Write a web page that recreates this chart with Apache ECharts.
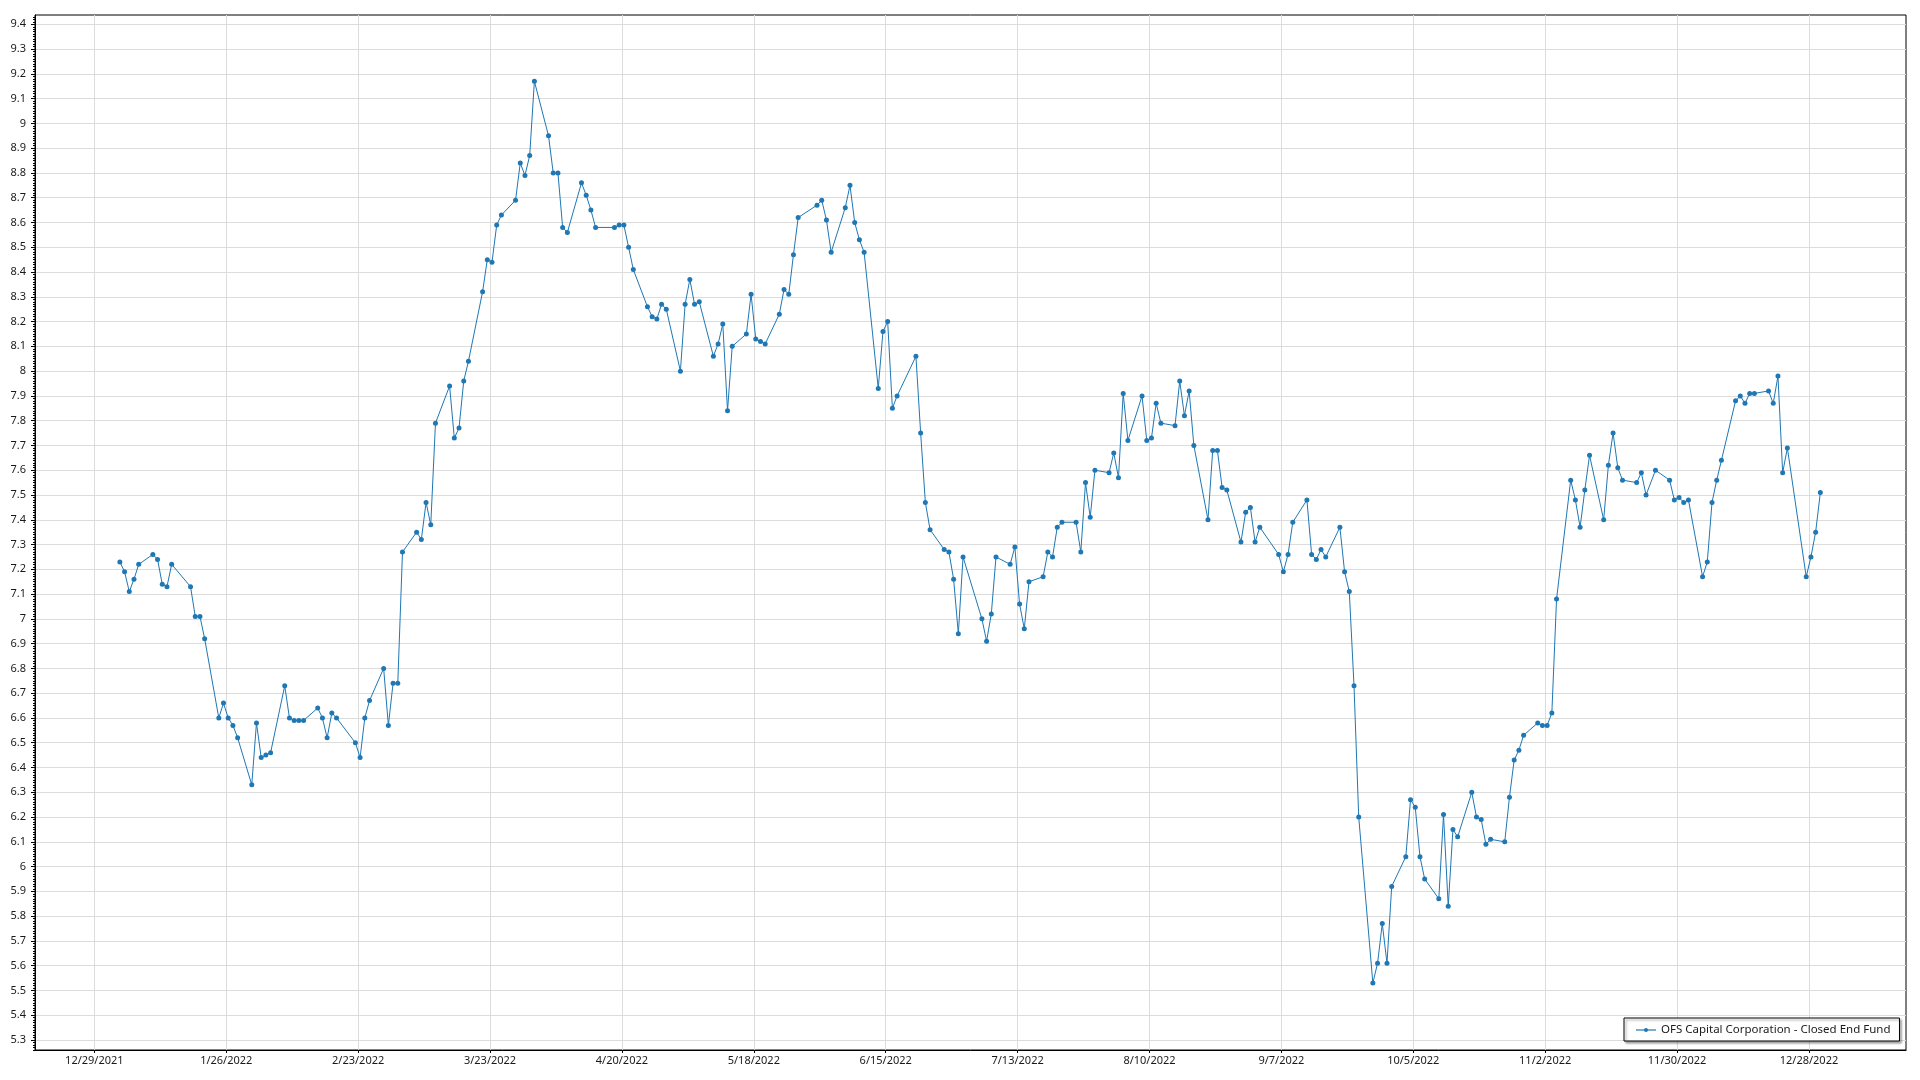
<!DOCTYPE html>
<html><head><meta charset="utf-8">
<script src="https://cdn.jsdelivr.net/npm/echarts@6/dist/echarts.min.js"></script>
<style>html,body{margin:0;padding:0;background:#fff}#c{width:1920px;height:1080px}</style>
</head><body><div id="c"></div>
<script>
const seriesName = 'OFS Capital Corporation - Closed End Fund';

// closing prices are stamped at ~10:00 on each trading day
const sampleHour = 10;

const dates = [
'2022-01-03','2022-01-04','2022-01-05','2022-01-06','2022-01-07','2022-01-10','2022-01-11','2022-01-12','2022-01-13','2022-01-14',
'2022-01-18','2022-01-19','2022-01-20','2022-01-21','2022-01-24','2022-01-25','2022-01-26','2022-01-27','2022-01-28','2022-01-31',
'2022-02-01','2022-02-02','2022-02-03','2022-02-04','2022-02-07','2022-02-08','2022-02-09','2022-02-10','2022-02-11','2022-02-14',
'2022-02-15','2022-02-16','2022-02-17','2022-02-18','2022-02-22','2022-02-23','2022-02-24','2022-02-25','2022-02-28',
'2022-03-01','2022-03-02','2022-03-03','2022-03-04','2022-03-07','2022-03-08','2022-03-09','2022-03-10','2022-03-11','2022-03-14',
'2022-03-15','2022-03-16','2022-03-17','2022-03-18','2022-03-21','2022-03-22','2022-03-23','2022-03-24','2022-03-25','2022-03-28',
'2022-03-29','2022-03-30','2022-03-31',
'2022-04-01','2022-04-04','2022-04-05','2022-04-06','2022-04-07','2022-04-08','2022-04-11','2022-04-12','2022-04-13','2022-04-14',
'2022-04-18','2022-04-19','2022-04-20','2022-04-21','2022-04-22','2022-04-25','2022-04-26','2022-04-27','2022-04-28','2022-04-29',
'2022-05-02','2022-05-03','2022-05-04','2022-05-05','2022-05-06','2022-05-09','2022-05-10','2022-05-11','2022-05-12','2022-05-13',
'2022-05-16','2022-05-17','2022-05-18','2022-05-19','2022-05-20','2022-05-23','2022-05-24','2022-05-25','2022-05-26','2022-05-27',
'2022-05-31',
'2022-06-01','2022-06-02','2022-06-03','2022-06-06','2022-06-07','2022-06-08','2022-06-09','2022-06-10','2022-06-13','2022-06-14',
'2022-06-15','2022-06-16','2022-06-17','2022-06-21','2022-06-22','2022-06-23','2022-06-24','2022-06-27','2022-06-28','2022-06-29',
'2022-06-30',
'2022-07-01','2022-07-05','2022-07-06','2022-07-07','2022-07-08','2022-07-11','2022-07-12','2022-07-13','2022-07-14','2022-07-15',
'2022-07-18','2022-07-19','2022-07-20','2022-07-21','2022-07-22','2022-07-25','2022-07-26','2022-07-27','2022-07-28','2022-07-29',
'2022-08-01','2022-08-02','2022-08-03','2022-08-04','2022-08-05','2022-08-08','2022-08-09','2022-08-10','2022-08-11','2022-08-12',
'2022-08-15','2022-08-16','2022-08-17','2022-08-18','2022-08-19','2022-08-22','2022-08-23','2022-08-24','2022-08-25','2022-08-26',
'2022-08-29','2022-08-30','2022-08-31',
'2022-09-01','2022-09-02','2022-09-06','2022-09-07','2022-09-08','2022-09-09','2022-09-12','2022-09-13','2022-09-14','2022-09-15',
'2022-09-16','2022-09-19','2022-09-20','2022-09-21','2022-09-22','2022-09-23','2022-09-26','2022-09-27','2022-09-28','2022-09-29',
'2022-09-30',
'2022-10-03','2022-10-04','2022-10-05','2022-10-06','2022-10-07','2022-10-10','2022-10-11','2022-10-12','2022-10-13','2022-10-14',
'2022-10-17','2022-10-18','2022-10-19','2022-10-20','2022-10-21','2022-10-24','2022-10-25','2022-10-26','2022-10-27','2022-10-28',
'2022-10-31',
'2022-11-01','2022-11-02','2022-11-03','2022-11-04','2022-11-07','2022-11-08','2022-11-09','2022-11-10','2022-11-11','2022-11-14',
'2022-11-15','2022-11-16','2022-11-17','2022-11-18','2022-11-21','2022-11-22','2022-11-23','2022-11-25','2022-11-28','2022-11-29',
'2022-11-30',
'2022-12-01','2022-12-02','2022-12-05','2022-12-06','2022-12-07','2022-12-08','2022-12-09','2022-12-12','2022-12-13','2022-12-14',
'2022-12-15','2022-12-16','2022-12-19','2022-12-20','2022-12-21','2022-12-22','2022-12-23','2022-12-27','2022-12-28','2022-12-29',
'2022-12-30'
];

const closes = [
7.23,7.19,7.11,7.16,7.22,7.26,7.24,7.14,7.13,7.22,
7.13,7.01,7.01,6.92,6.60,6.66,6.60,6.57,6.52,6.33,
6.58,6.44,6.45,6.46,6.73,6.60,6.59,6.59,6.59,6.64,
6.60,6.52,6.62,6.60,6.50,6.44,6.60,6.67,6.80,
6.57,6.74,6.74,7.27,7.35,7.32,7.47,7.38,7.79,7.94,
7.73,7.77,7.96,8.04,8.32,8.45,8.44,8.59,8.63,8.69,
8.84,8.79,8.87,
9.17,8.95,8.80,8.80,8.58,8.56,8.76,8.71,8.65,8.58,
8.58,8.59,8.59,8.50,8.41,8.26,8.22,8.21,8.27,8.25,
8.00,8.27,8.37,8.27,8.28,8.06,8.11,8.19,7.84,8.10,
8.15,8.31,8.13,8.12,8.11,8.23,8.33,8.31,8.47,8.62,
8.67,
8.69,8.61,8.48,8.66,8.75,8.60,8.53,8.48,7.93,8.16,
8.20,7.85,7.90,8.06,7.75,7.47,7.36,7.28,7.27,7.16,
6.94,
7.25,7.00,6.91,7.02,7.25,7.22,7.29,7.06,6.96,7.15,
7.17,7.27,7.25,7.37,7.39,7.39,7.27,7.55,7.41,7.60,
7.59,7.67,7.57,7.91,7.72,7.90,7.72,7.73,7.87,7.79,
7.78,7.96,7.82,7.92,7.70,7.40,7.68,7.68,7.53,7.52,
7.31,7.43,7.45,
7.31,7.37,7.26,7.19,7.26,7.39,7.48,7.26,7.24,7.28,
7.25,7.37,7.19,7.11,6.73,6.20,5.53,5.61,5.77,5.61,
5.92,
6.04,6.27,6.24,6.04,5.95,5.87,6.21,5.84,6.15,6.12,
6.30,6.20,6.19,6.09,6.11,6.10,6.28,6.43,6.47,6.53,
6.58,
6.57,6.57,6.62,7.08,7.56,7.48,7.37,7.52,7.66,7.40,
7.62,7.75,7.61,7.56,7.55,7.59,7.50,7.60,7.56,7.48,
7.49,
7.47,7.48,7.17,7.23,7.47,7.56,7.64,7.88,7.90,7.87,
7.91,7.91,7.92,7.87,7.98,7.59,7.69,7.17,7.25,7.35,
7.51
];

const xTickLabels = ['12/29/2021','1/26/2022','2/23/2022','3/23/2022','4/20/2022','5/18/2022','6/15/2022',
  '7/13/2022','8/10/2022','9/7/2022','10/5/2022','11/2/2022','11/30/2022','12/28/2022'];
const yTickLabels = ['5.3','5.4','5.5','5.6','5.7','5.8','5.9','6','6.1','6.2','6.3','6.4','6.5','6.6','6.7',
  '6.8','6.9','7','7.1','7.2','7.3','7.4','7.5','7.6','7.7','7.8','7.9','8','8.1','8.2','8.3','8.4','8.5',
  '8.6','8.7','8.8','8.9','9','9.1','9.2','9.3','9.4'];

// ---- build ----
const DAY = 86400000;
const ORIGIN = Date.UTC(2021, 11, 29);
function isoToDay(s) { const p = s.split('-').map(Number); return (Date.UTC(p[0], p[1]-1, p[2], sampleHour) - ORIGIN) / DAY; }
function mdyToDay(s) { const p = s.split('/').map(Number); return (Date.UTC(p[2], p[0]-1, p[1]) - ORIGIN) / DAY; }

const xTickVals = xTickLabels.map(mdyToDay);
const yTickVals = yTickLabels.map(Number);
const points = dates.map((d, i) => [isoToDay(d), closes[i]]);

const X_MIN = -12.6, X_MAX = 384.6;
const Y_MIN = 5.2596, Y_MAX = 9.4376;
const minorVals = [];
for (let k = Math.ceil(Y_MIN * 100); k <= Math.floor(Y_MAX * 100); k++) minorVals.push(k / 100);

const FONT = '"Noto Sans", "Open Sans", sans-serif';
const gridColor = '#dcdcdc';

const chart = echarts.init(document.getElementById('c'), null, { renderer: 'canvas' });
chart.setOption({
  animation: false,
  backgroundColor: '#ffffff',
  grid: { left: 35, right: 14, top: 15, bottom: 30, show: true, borderColor: '#000', borderWidth: 1,
          containLabel: false, outerBoundsMode: 'none' },
  xAxis: {
    type: 'value', min: X_MIN, max: X_MAX,
    axisLine: { show: true, onZero: false, lineStyle: { color: '#000', width: 1 } },
    axisTick: { show: true, length: 3, customValues: xTickVals, lineStyle: { color: '#000' } },
    axisLabel: { customValues: xTickVals, margin: 5, fontSize: 11, color: '#1a1a1a', fontFamily: FONT,
      formatter: v => { const i = xTickVals.findIndex(t => Math.abs(t - v) < 0.01); return i >= 0 ? xTickLabels[i] : ''; } },
    splitLine: { show: true, lineStyle: { color: gridColor, width: 1 } }
  },
  yAxis: [{
    type: 'value', min: Y_MIN, max: Y_MAX, position: 'left',
    axisLine: { show: true, onZero: false, lineStyle: { color: '#000', width: 1 } },
    axisTick: { show: true, length: 4, customValues: yTickVals, lineStyle: { color: '#000' } },
    axisLabel: { customValues: yTickVals, margin: 9, fontSize: 11, color: '#1a1a1a', fontFamily: FONT,
      formatter: v => { const i = yTickVals.findIndex(t => Math.abs(t - v) < 1e-6); return i >= 0 ? yTickLabels[i] : ''; } },
    splitLine: { show: true, lineStyle: { color: gridColor, width: 1 } }
  }, {
    type: 'value', min: Y_MIN, max: Y_MAX, position: 'left', offset: 0,
    axisLine: { show: false, onZero: false },
    axisTick: { show: true, length: 2, customValues: minorVals, lineStyle: { color: '#000' } },
    axisLabel: { show: false },
    splitLine: { show: false }
  }],
  legend: {
    data: [seriesName], left: 1624, top: 1018, orient: 'horizontal',
    backgroundColor: '#fff', borderColor: '#000', borderWidth: 1,
    shadowColor: 'rgba(0,0,0,0.35)', shadowBlur: 2, shadowOffsetX: 2, shadowOffsetY: 2,
    padding: [6, 9, 5, 11], itemWidth: 20, itemHeight: 5, itemGap: 6,
    textStyle: { fontSize: 11.5, color: '#1a1a1a', fontFamily: FONT },
    lineStyle: { opacity: 0.6, width: 2 }
  },
  series: [{
    name: seriesName, type: 'line', data: points, yAxisIndex: 0,
    symbol: 'circle', symbolSize: 5, showAllSymbol: true,
    itemStyle: { color: '#1f77b4' },
    lineStyle: { color: '#1f77b4', width: 1 }
  }]
});
</script>
</body></html>
